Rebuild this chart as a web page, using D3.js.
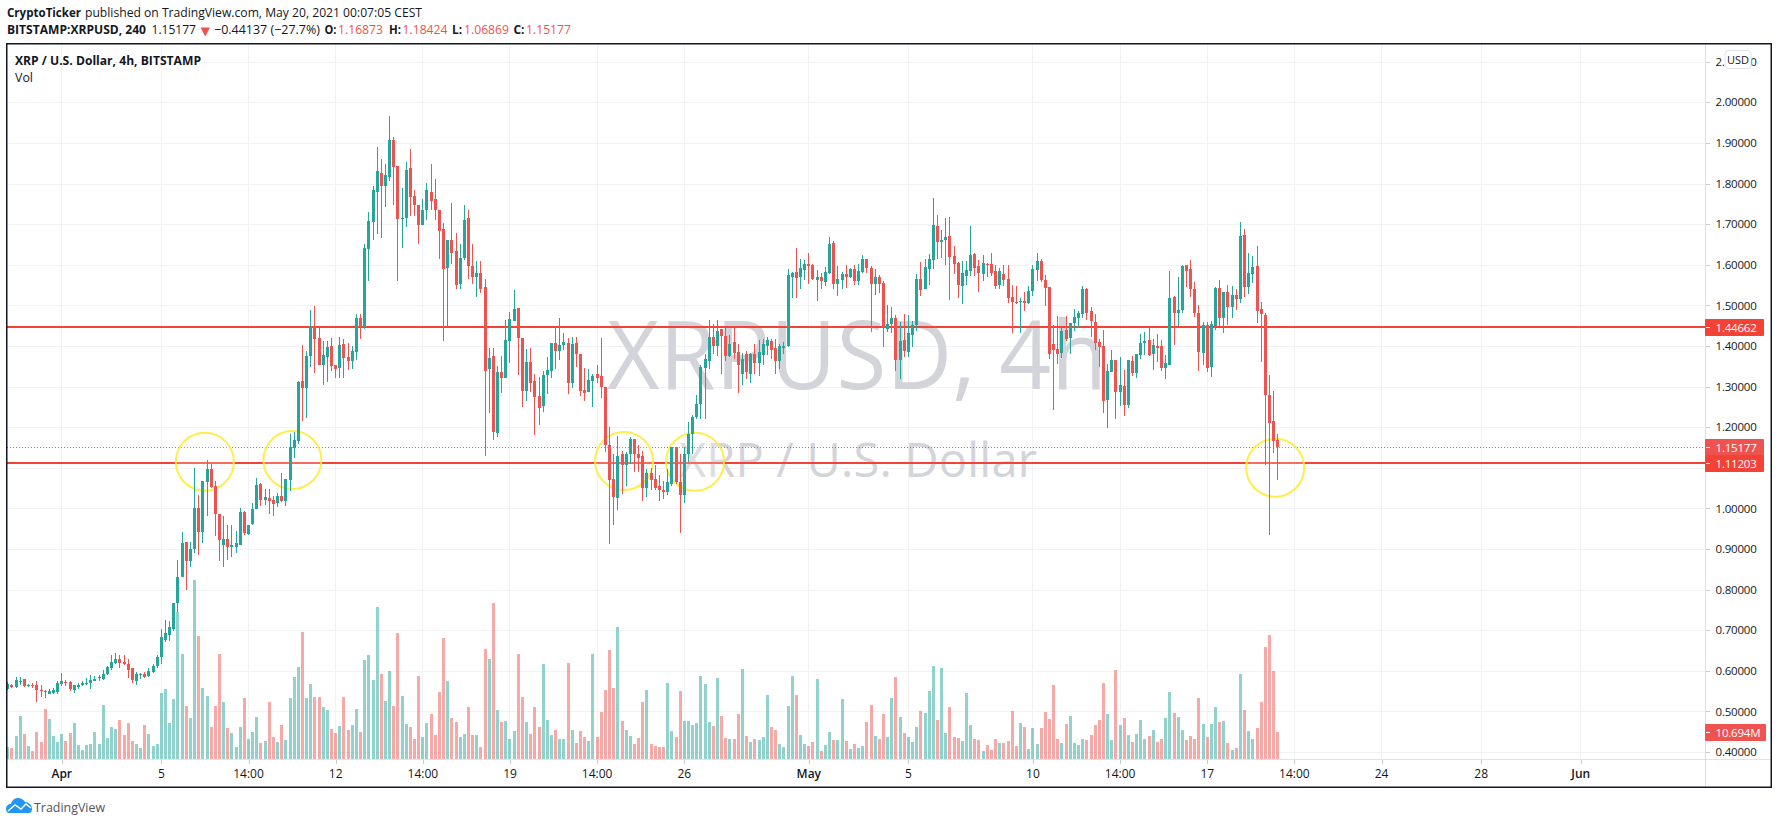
<!DOCTYPE html>
<html><head><meta charset="utf-8">
<script src="https://cdn.jsdelivr.net/npm/d3@7/dist/d3.min.js"></script>
<style>
html,body{margin:0;padding:0;background:#fff;overflow:hidden}
svg{display:block}
text{font-family:"Open Sans",sans-serif;fill:#131722}
</style></head><body>
<svg id="c" width="1778" height="824"></svg>
<script>
const opens=[.556,.566,.559,.572,.579,.562,.566,.564,.552,.551,.544,.546,.547,.568,.573,.572,.552,.56,.564,.569,.57,.576,.582,.58,.591,.606,.62,.63,.622,.617,.606,.576,.589,.593,.587,.598,.611,.634,.677,.689,.704,.766,.83,.917,.87,.899,1,.941,1.065,1.098,1.055,.986,.91,.924,.904,.905,.91,.992,.938,.962,.998,1.06,1.02,1.025,1.02,1.013,1.03,1.018,1.07,1.148,1.166,
1.313,1.297,1.375,1.449,1.419,1.352,1.372,1.4,1.352,1.345,1.404,1.372,1.362,1.384,1.47,1.446,1.638,1.704,1.78,1.827,1.795,1.815,1.908,1.842,1.712,1.714,1.837,1.77,1.748,1.697,1.734,1.78,1.763,1.736,1.687,1.591,1.662,1.633,1.552,1.616,1.714,1.598,1.571,1.579,1.544,1.343,1.375,1.185,1.335,1.32,1.412,1.461,1.493,1.419,1.289,1.36,1.313,1.276,1.252,1.328,1.338,1.407,1.387,1.402,1.407,1.308,1.407,
1.38,1.292,1.287,1.313,1.33,1.325,1.298,1.155,1.073,1.025,1.133,1.106,1.133,1.172,1.133,1.128,1.049,1.086,1.073,1.054,1.046,1.041,1.061,1.15,1.066,1.034,1.135,1.182,1.224,1.256,1.345,1.364,1.421,1.401,1.441,1.424,1.374,1.409,1.384,1.33,1.379,1.33,1.379,1.357,1.377,1.401,1.411,1.394,1.364,1.396,1.401,
1.57,1.582,1.57,1.587,1.602,1.599,1.562,1.57,1.557,1.579,1.653,1.553,1.562,1.577,1.57,1.589,1.56,1.582,1.614,1.592,1.553,1.57,1.555,1.442,1.454,1.469,1.366,1.415,1.385,1.427,1.452,1.565,1.54,1.589,1.612,1.695,1.656,1.661,1.671,1.621,1.604,1.548,1.572,1.585,1.626,1.597,1.577,1.603,1.602,1.585,1.55,1.577,1.565,1.52,1.508,1.509,1.511,1.506,1.535,1.587,1.609,1.562,1.545,
1.405,1.393,1.383,1.44,1.42,1.457,1.469,1.479,1.54,1.486,1.459,1.41,1.4,1.268,1.336,1.366,1.287,1.302,1.255,1.363,1.334,1.378,1.408,1.415,1.381,1.4,1.4,1.346,1.354,1.521,1.481,1.489,1.599,1.589,1.54,1.481,1.383,1.452,1.349,1.449,1.543,1.469,1.533,1.496,1.526,1.516,1.673,1.545,1.577,1.597,1.491,1.477,1.28,1.214,1.16873];
const closes=[.568,.559,.578,.574,.562,.566,.562,.552,.55,.547,.55,.552,.57,.574,.57,.554,.564,.566,.571,.571,.578,.58,.584,.592,.609,.622,.63,.62,.616,.602,.577,.591,.593,.585,.599,.611,.634,.682,.692,.707,.768,.832,.914,.87,.899,1,.941,1.067,1.096,1.052,.986,.923,.924,.905,.91,.915,.99,.94,.96,.999,1.058,1.02,1.027,1.018,1.01,1.03,1.018,1.072,1.152,1.168,1.311,
1.297,1.375,1.449,1.416,1.352,1.377,1.398,1.35,1.343,1.402,1.37,1.362,1.387,1.47,1.448,1.64,1.707,1.785,1.83,1.795,1.82,1.908,1.84,1.712,1.716,1.834,1.768,1.746,1.697,1.734,1.783,1.758,1.736,1.682,1.589,1.662,1.63,1.549,1.616,1.709,1.598,1.571,1.579,1.539,1.338,1.37,1.188,1.335,1.32,1.414,1.466,1.49,1.419,1.289,1.36,1.308,1.274,1.247,1.328,1.34,1.407,1.387,1.402,1.409,1.308,1.404,1.38,
1.289,1.283,1.315,1.327,1.32,1.3,1.155,1.071,1.027,1.13,1.106,1.135,1.172,1.133,1.125,1.049,1.088,1.071,1.051,1.044,1.041,1.064,1.15,1.064,1.032,1.135,1.184,1.226,1.258,1.347,1.369,1.421,1.399,1.438,1.424,1.374,1.404,1.382,1.354,1.369,1.335,1.379,1.357,1.384,1.404,1.414,1.391,1.364,1.401,1.401,1.574,
1.58,1.567,1.592,1.602,1.597,1.565,1.57,1.56,1.582,1.651,1.553,1.565,1.577,1.57,1.589,1.56,1.585,1.614,1.592,1.553,1.57,1.553,1.445,1.454,1.469,1.366,1.412,1.387,1.432,1.452,1.565,1.538,1.594,1.614,1.698,1.656,1.661,1.668,1.619,1.602,1.55,1.58,1.587,1.624,1.592,1.58,1.604,1.6,1.58,1.548,1.585,1.562,1.518,1.508,1.506,1.511,1.506,1.535,1.589,1.609,1.562,1.543,1.381,
1.39,1.38,1.437,1.417,1.457,1.472,1.481,1.54,1.481,1.462,1.408,1.398,1.265,1.339,1.366,1.287,1.304,1.255,1.366,1.334,1.381,1.408,1.413,1.378,1.403,1.395,1.346,1.358,1.518,1.481,1.489,1.597,1.585,1.54,1.481,1.385,1.452,1.346,1.454,1.543,1.469,1.533,1.496,1.526,1.516,1.671,1.545,1.58,1.594,1.486,1.479,1.278,1.211,1.167,1.15177];
const highs=[.572,.568,.585,.585,.58,.568,.57,.574,.566,.552,.554,.558,.575,.595,.577,.574,.566,.57,.574,.583,.589,.587,.589,.601,.611,.638,.643,.64,.639,.628,.607,.598,.595,.597,.607,.617,.639,.702,.726,.723,.768,.874,.941,.917,.917,1.1,1.033,1.067,1.118,1.11,1.068,.986,.98,.96,.96,.945,1,.993,.96,1.012,1.075,1.062,1.048,1.048,1.031,1.038,1.087,1.072,1.183,1.189,1.313,
1.402,1.387,1.489,1.498,1.444,1.411,1.413,1.419,1.352,1.421,1.416,1.407,1.4,1.478,1.478,1.652,1.729,1.793,1.891,1.861,1.847,1.967,1.915,1.842,1.788,1.854,1.886,1.785,1.748,1.761,1.802,1.847,1.812,1.736,1.702,1.662,1.751,1.677,1.652,1.746,1.736,1.652,1.608,1.608,1.566,1.394,1.394,1.35,1.375,1.463,1.483,1.537,1.493,1.419,1.392,1.394,1.33,1.323,1.338,1.372,1.407,1.448,1.468,1.431,1.419,1.421,1.421,
1.38,1.346,1.344,1.33,1.352,1.42,1.298,1.2,1.133,1.177,1.142,1.14,1.175,1.172,1.157,1.142,1.096,1.1,1.106,1.081,1.068,1.096,1.152,1.15,1.135,1.152,1.212,1.229,1.28,1.352,1.379,1.465,1.453,1.465,1.441,1.446,1.428,1.446,1.406,1.382,1.387,1.382,1.404,1.414,1.416,1.421,1.416,1.416,1.404,1.41,1.59,
1.581,1.641,1.614,1.612,1.629,1.602,1.587,1.58,1.594,1.668,1.658,1.597,1.582,1.599,1.592,1.599,1.602,1.624,1.614,1.597,1.589,1.575,1.56,1.501,1.496,1.476,1.459,1.479,1.476,1.462,1.577,1.607,1.614,1.626,1.764,1.722,1.685,1.715,1.717,1.646,1.607,1.609,1.609,1.695,1.629,1.612,1.624,1.604,1.629,1.599,1.592,1.599,1.599,1.55,1.548,1.518,1.533,1.548,1.599,1.629,1.614,1.575,1.545,
1.452,1.474,1.444,1.474,1.457,1.491,1.486,1.548,1.543,1.496,1.479,1.417,1.44,1.356,1.39,1.366,1.373,1.341,1.366,1.376,1.381,1.43,1.435,1.447,1.417,1.43,1.415,1.378,1.585,1.523,1.57,1.599,1.599,1.612,1.557,1.501,1.459,1.459,1.462,1.545,1.562,1.533,1.55,1.548,1.54,1.705,1.688,1.629,1.621,1.646,1.508,1.482,1.329,1.29,1.18424];
const lows=[.553,.557,.558,.566,.56,.56,.558,.524,.536,.533,.542,.542,.543,.562,.562,.551,.546,.554,.562,.566,.556,.574,.575,.578,.589,.603,.617,.607,.614,.583,.569,.565,.58,.582,.584,.595,.607,.617,.671,.674,.698,.746,.83,.8,.855,.891,.885,.915,.98,1.05,.932,.87,.856,.874,.88,.89,.91,.934,.935,.96,.998,1.005,1.008,.985,.982,1.003,1.015,1.005,1.043,1.125,1.159,
1.216,1.222,1.348,1.333,1.352,1.303,1.31,1.339,1.32,1.32,1.322,1.34,1.343,1.365,1.416,1.441,1.559,1.66,1.675,1.665,1.743,1.805,1.748,1.559,1.64,1.692,1.721,1.721,1.65,1.697,1.711,1.736,1.709,1.613,1.411,1.448,1.603,1.539,1.539,1.611,1.564,1.552,1.52,1.53,1.129,1.234,1.168,1.175,1.284,1.32,1.357,1.461,1.328,1.249,1.264,1.286,1.18,1.205,1.237,1.281,1.32,1.343,1.365,1.389,1.281,1.296,1.348,
1.276,1.264,1.286,1.249,1.308,1.271,1.14,.913,.958,.995,1.036,1.056,1.11,1.09,1.09,1.019,1.029,1.046,1.044,1.017,1.022,1.032,1.056,1.061,.94,1.014,1.113,1.135,1.221,1.221,1.219,1.342,1.379,1.374,1.33,1.364,1.372,1.367,1.283,1.305,1.318,1.308,1.332,1.327,1.352,1.377,1.367,1.33,1.342,1.38,1.397,
1.518,1.519,1.54,1.562,1.553,1.562,1.511,1.54,1.548,1.577,1.54,1.523,1.54,1.543,1.567,1.55,1.55,1.58,1.58,1.435,1.526,1.53,1.398,1.435,1.432,1.339,1.319,1.373,1.373,1.398,1.437,1.523,1.54,1.55,1.589,1.614,1.616,1.599,1.513,1.577,1.518,1.503,1.55,1.572,1.572,1.533,1.56,1.57,1.572,1.54,1.54,1.548,1.506,1.432,1.503,1.432,1.486,1.503,1.523,1.56,1.557,1.499,1.368,
1.243,1.356,1.371,1.412,1.38,1.437,1.444,1.469,1.464,1.422,1.39,1.349,1.236,1.199,1.336,1.221,1.253,1.228,1.248,1.327,1.322,1.368,1.378,1.376,1.341,1.361,1.339,1.319,1.354,1.403,1.449,1.481,1.545,1.521,1.472,1.339,1.354,1.336,1.324,1.44,1.447,1.432,1.452,1.469,1.489,1.506,1.521,1.528,1.555,1.457,1.361,1.108,.935,1.137,1.06869];
const volumes=[4.8,4.4,9.4,17.4,10.2,5.4,3.4,11,7,20.2,16.2,9.4,7,10.2,7.4,10.6,14.6,5.8,3.8,5.8,6.2,11,6.2,21.8,8.6,13,12.2,15.8,9.8,14.6,7.4,6.2,4.6,13.8,10.2,5.4,6.2,26.7,28.3,14.6,24.3,59,42.3,21.4,16.6,72,49.6,28.7,25.5,13,21.4,42.3,23,12.6,10.6,5,13,24.7,8.2,11,17,6.6,7.4,23,9,7,13.8,7.8,24.7,33,37,
51.2,24.7,30.3,25,25,21,19.8,12.2,10.6,13.4,25,11.8,13.8,20.2,11,39.9,41.9,31.9,61.2,34.3,23.5,35.5,21.4,50.8,25.5,14.2,13,8.2,33.5,9,14.6,18.2,9.8,27,48.8,31.5,16.6,15,9,10.2,21,9.8,9.8,5,44.4,40.3,62.8,19.8,15,15.4,8.2,11.4,42.3,25,15,10.2,21,13,38.3,15.8,9.8,11.8,8.2,8.2,38.7,11.8,6.6,11.4,9,
7.4,42.3,9,19,27.9,44,28.7,53.2,15.4,11.8,9.4,6.2,8.6,23,27.9,6.2,5.4,5,5,30.7,11.4,9,27.5,15.4,15.4,13.8,14.6,33.5,30.3,15,13.4,32.7,17.4,8.6,8.2,8.2,18.2,36.3,9.4,7,8.2,7.8,9,25.9,13,11.8,6.2,5,21.4,33.5,
25.9,9.8,6.2,5.4,7,32.3,3.4,5.8,11,7.8,7.8,24.3,7.4,4.2,6.2,4.6,5.4,15,21.8,9.4,8.2,18.2,9,24.7,33.1,17,10.6,9,7,13,19.4,18.6,27.5,37.5,15.8,36.7,10.6,21,9,8.6,7.4,26.7,13.8,8.2,7.8,3.4,5.8,3.8,8.2,6.6,6.6,7.4,19.4,5.4,14.6,13,4.2,12.6,6.2,12.6,19,16.2,29.9,8.2,6.6,14.2,17.4,6.6,5.8,8.2,7.8,9.8,13.8,15.8,30.7,18.2,7.8,35.9,13.8,16.6,9.8,7,10.2,15.8,8.2,9.4,11.8,7,8.2,16.6,27,18.6,17,11.8,7.8,9.4,8.2,24.7,14.2,9,14.2,21,15,15.4,6.6,3.8,4.6,34.3,19.8,11.4,8.2,12.6,23,45.2,50,35.5,10.694];
const priceTicks=[2.1,2,1.9,1.8,1.7,1.6,1.5,1.4,1.3,1.2,1.1,1,.9,.8,.7,.6,.5,.4];
const timeTickBars=[13,37,58,79,100,121,142,163,193,217,247,268,289,310,331,355,379];
const timeTickLabels=["Apr","5","14:00","12","14:00","19","14:00","26","May","5","10","14:00","17","14:00","24","28","Jun"];
const monthLabels=["Apr","May","Jun"];
const levelPrices=[1.44662,1.11203];
const lastPrice=1.15177, lastVolume=10.694;
const circleBars=[47.6,68.7,148.6,165.7,305.5];
const circlePrices=[1.115,1.119,1.1165,1.115,1.1];

const M={l:7,r:1705,t:44,b:759,right:1771,bottom:787};
const svg=d3.select('#c');
const n=opens.length;
const x=d3.scaleLinear([0,306],[7.3,1277.3]);
const y=d3.scaleLinear([2,.4],[102.3,752]);
const yv=d3.scaleLinear([0,72],[759,580]);
const up=i=>closes[i]>=opens[i];
const G='#26a69a',R='#ef5350',L='#f44336';
const px=i=>Math.round(x(i));

// grid
const grid=svg.append('g').attr('shape-rendering','crispEdges').attr('stroke','#f1f2f5');
grid.selectAll('.h').data(priceTicks).join('line').attr('x1',M.l).attr('x2',M.r).attr('y1',d=>Math.round(y(d))).attr('y2',d=>Math.round(y(d)));
grid.selectAll('.v').data(timeTickBars).join('line').attr('y1',M.t).attr('y2',M.b).attr('x1',d=>px(d)+.5).attr('x2',d=>px(d)+.5);

// watermark
svg.append('text').text('XRPUSD, 4h').attr('x',857).attr('y',389).attr('text-anchor','middle')
 .attr('font-size',96).style('fill','#d3d4d9').attr('textLength',500).attr('lengthAdjust','spacingAndGlyphs');
svg.append('text').text('XRP / U.S. Dollar').attr('x',858).attr('y',477).attr('text-anchor','middle')
 .attr('font-size',47).style('fill','#d3d4d9').attr('textLength',358).attr('lengthAdjust','spacing');

// volume
svg.append('g').attr('shape-rendering','crispEdges').selectAll('rect').data(volumes).join('rect')
 .attr('x',(d,i)=>px(i)-1).attr('width',3).attr('y',d=>Math.round(yv(d))).attr('height',d=>yv(0)-Math.round(yv(d)))
 .attr('fill',(d,i)=>up(i)?G:R).attr('opacity',.5);

// levels + circles below candles
const lev=svg.append('g').attr('shape-rendering','crispEdges');
lev.append('line').attr('x1',M.l).attr('x2',M.r).attr('y1',Math.round(y(lastPrice))+.5).attr('y2',Math.round(y(lastPrice))+.5)
 .attr('stroke',R).attr('stroke-dasharray','1 2');
lev.selectAll('.l').data(levelPrices).join('line').attr('x1',M.l).attr('x2',M.r)
 .attr('y1',d=>Math.round(y(d))).attr('y2',d=>Math.round(y(d))).attr('stroke',L).attr('stroke-width',2);
svg.append('g').selectAll('circle').data(circleBars).join('circle')
 .attr('cx',d=>x(d)).attr('cy',(d,i)=>y(circlePrices[i])).attr('r',29)
 .attr('fill','#fff').attr('fill-opacity',.22).attr('stroke','#ffeb3b').attr('stroke-opacity',.9).attr('stroke-width',2);

// candles
const cg=svg.append('g').attr('shape-rendering','crispEdges');
cg.selectAll('.w').data(d3.range(n)).join('rect').attr('x',px).attr('width',1)
 .attr('y',i=>Math.round(y(highs[i]))).attr('height',i=>Math.max(1,Math.round(y(lows[i]))-Math.round(y(highs[i]))))
 .attr('fill',i=>up(i)?G:R);
cg.selectAll('.b').data(d3.range(n)).join('rect').attr('x',i=>px(i)-1).attr('width',3)
 .attr('y',i=>Math.round(y(Math.max(opens[i],closes[i]))))
 .attr('height',i=>Math.max(1,Math.round(y(Math.min(opens[i],closes[i])))-Math.round(y(Math.max(opens[i],closes[i])))))
 .attr('fill',i=>up(i)?G:R);

// axis lines
const ax=svg.append('g').attr('shape-rendering','crispEdges');
ax.append('line').attr('x1',M.l).attr('x2',M.right).attr('y1',M.b+.5).attr('y2',M.b+.5).attr('stroke','#e0e3eb');
ax.append('line').attr('x1',M.r+.5).attr('x2',M.r+.5).attr('y1',M.t).attr('y2',M.bottom).attr('stroke','#dcdee3');

// price axis
const fmt=d3.format('.5f');
const ya=svg.append('g').attr('transform',`translate(${M.r+.5},0)`)
 .call(d3.axisRight(y).tickValues(priceTicks).tickSize(4.5).tickPadding(5.5).tickFormat(d=>d===1.1?'':fmt(d)));
ya.select('.domain').remove();
ya.selectAll('line').attr('stroke','#c8cad0').attr('shape-rendering','crispEdges');
ya.selectAll('text').attr('font-size',11.5).style('font-family','"Open Sans"').style('fill','#131722').attr('letter-spacing',-.2);

// time axis
const xa=svg.append('g').attr('transform',`translate(0,${M.b+.5})`)
 .call(d3.axisBottom(x).tickValues(timeTickBars).tickSize(4).tickPadding(6).tickFormat((d,i)=>timeTickLabels[i]));
xa.select('.domain').remove();
xa.selectAll('line').attr('stroke','#c8cad0').attr('shape-rendering','crispEdges').attr('transform','translate(.5,0)');
xa.selectAll('text').attr('font-size',12).style('font-family','"Open Sans"').style('fill','#131722')
 .attr('font-weight',(d,i)=>monthLabels.includes(timeTickLabels[i])?600:400);

// value labels
function tag(price,value,fill,w,scale){
 const cy=Math.round((scale||y)(price));
 svg.append('rect').attr('x',M.r).attr('y',cy-8).attr('width',w).attr('height',17).attr('rx',1).attr('fill',fill);
 svg.append('rect').attr('x',M.r+1).attr('y',cy).attr('width',4).attr('height',1).attr('fill','#fff');
 svg.append('text').text(value).attr('x',M.r+10.5).attr('y',cy+4.5).attr('font-size',11.5).attr('letter-spacing',-.2).style('fill','#fff');
}
tag(levelPrices[0],levelPrices[0].toFixed(5),L,59);
tag(lastPrice,lastPrice.toFixed(5),R,59);
tag(levelPrices[1],levelPrices[1].toFixed(5),L,59);
tag(lastVolume,lastVolume.toFixed(3)+'M',R,61,yv);

// USD button
svg.append('rect').attr('x',1725).attr('y',50.5).attr('width',26).attr('height',18).attr('rx',3).attr('fill','#fff').attr('stroke','#e0e3eb');
svg.append('text').text('USD').attr('x',1738).attr('y',63.5).attr('text-anchor','middle').attr('font-size',11);

// frame
svg.append('rect').attr('x',6.75).attr('y',43.75).attr('width',1764.5).attr('height',743.5).attr('fill','none').attr('stroke','#131722').attr('stroke-width',1.5);

// header
function t(s,xp,yp,opt={}){
 const e=svg.append('text').text(s).attr('x',xp).attr('y',yp).attr('font-size',opt.size||13);
 if(opt.bold)e.attr('font-weight',opt.bold===1?700:opt.bold);
 if(opt.fill)e.style('fill',opt.fill);
 if(opt.len)e.attr('textLength',opt.len).attr('lengthAdjust','spacingAndGlyphs');
 return e;
}
t('CryptoTicker',7,17,{bold:1,len:74});
t('published on TradingView.com, May 20, 2021 00:07:05 CEST',85,17,{len:337});
t('BITSTAMP:XRPUSD, 240',7,34,{bold:1,len:139});
t('1.15177',151.5,34,{len:44.5});
svg.append('path').attr('d','M200.5 27.5h9.5l-4.75 9z').attr('fill',R);
t('\u22120.44137 (\u221227.7%)',214,34,{len:106});
const ohlcLabels=['O:','H:','L:','C:'],ohlcVals=['1.16873','1.18424','1.06869','1.15177'];
[324.5,389,452,513.5].forEach((xp,i)=>t(ohlcLabels[i],xp,34,{bold:1,len:[12,12,10,11][i]}));
[338,402.5,464,526].forEach((xp,i)=>t(ohlcVals[i],xp,34,{fill:R,len:45}));
t('XRP / U.S. Dollar, 4h, BITSTAMP',15,65,{bold:1,len:186});
t('Vol',15,82,{len:18});

// logo
const lg=svg.append('g').attr('transform','translate(6,798)');
lg.append('path').attr('fill','#2196f3').attr('d','M0 11C0 8 2 6 5 6C6 2 9 0 12 0C15 0 18 2 19 4C23 4 26 7 26 11C26 13 25 15 23 15H3C1 15 0 13 0 11Z');
lg.append('path').attr('fill','none').attr('stroke','#fff').attr('stroke-width',1.4).attr('d','M2 13L9 7L15 11L20 6L25 10');
t('TradingView',34,812,{len:71,size:13}).style('fill','#50535e');
</script></body></html>
